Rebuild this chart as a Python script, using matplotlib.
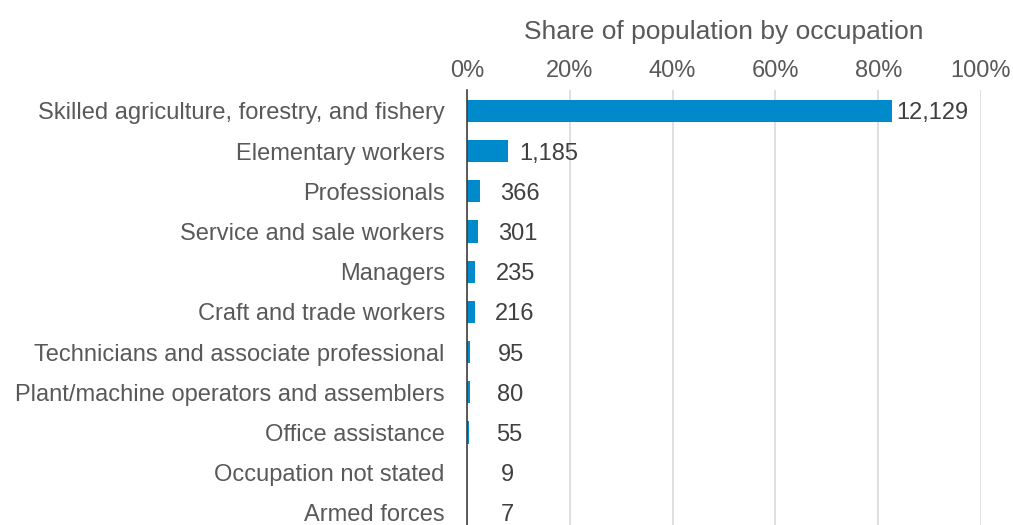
import matplotlib.pyplot as plt
from matplotlib.ticker import PercentFormatter

plt.rcParams["font.family"] = ["Liberation Sans", "DejaVu Sans"]

occupations = [
    "Skilled agriculture, forestry, and fishery",
    "Elementary workers",
    "Professionals",
    "Service and sale workers",
    "Managers",
    "Craft and trade workers",
    "Technicians and associate professional",
    "Plant/machine operators and assemblers",
    "Office assistance",
    "Occupation not stated",
    "Armed forces",
]
counts = [12129, 1185, 366, 301, 235, 216, 95, 80, 55, 9, 7]

BAR_COLOR = "#0089CB"
TEXT_COLOR = "#595959"
GRID_COLOR = "#D9D9D9"

total = sum(counts)
shares = [c / total for c in counts]

fig = plt.figure(figsize=(10.13, 5.25), dpi=100)
ax = fig.add_axes([467 / 1013, 0.0, (981 - 467) / 1013, (525 - 90) / 525])

ypos = list(range(len(occupations)))
ax.barh(ypos, shares, height=0.55, color=BAR_COLOR, zorder=3)

for y, s, c in zip(ypos, shares, counts):
    ax.annotate(f"{c:,}", xy=(s, y), xytext=(29, 0), textcoords="offset points",
                ha="center", va="center_baseline", fontsize=17, color="#404040")

ax.set_xlim(0, 1)
ax.set_ylim(10.3, -0.52)
ax.set_yticks(ypos)
ax.set_yticklabels(occupations, fontsize=17, color=TEXT_COLOR)
ax.xaxis.set_major_formatter(PercentFormatter(1.0, decimals=0))
ax.set_xticks([0, 0.2, 0.4, 0.6, 0.8, 1.0])
ax.xaxis.tick_top()
ax.xaxis.set_label_position("top")
ax.tick_params(axis="x", labelsize=17, labelcolor=TEXT_COLOR, length=0, pad=6)
ax.tick_params(axis="y", length=0, pad=16)
ax.set_xlabel("Share of population by occupation", fontsize=19, color=TEXT_COLOR, labelpad=15)

ax.grid(axis="x", color=GRID_COLOR, linewidth=1.2, zorder=0)
for side in ["top", "right", "bottom"]:
    ax.spines[side].set_visible(False)
ax.spines["left"].set_color("#404040")
ax.spines["left"].set_linewidth(1.2)
ax.spines["left"].set_zorder(4)

fig.savefig("out.png", dpi=100)
